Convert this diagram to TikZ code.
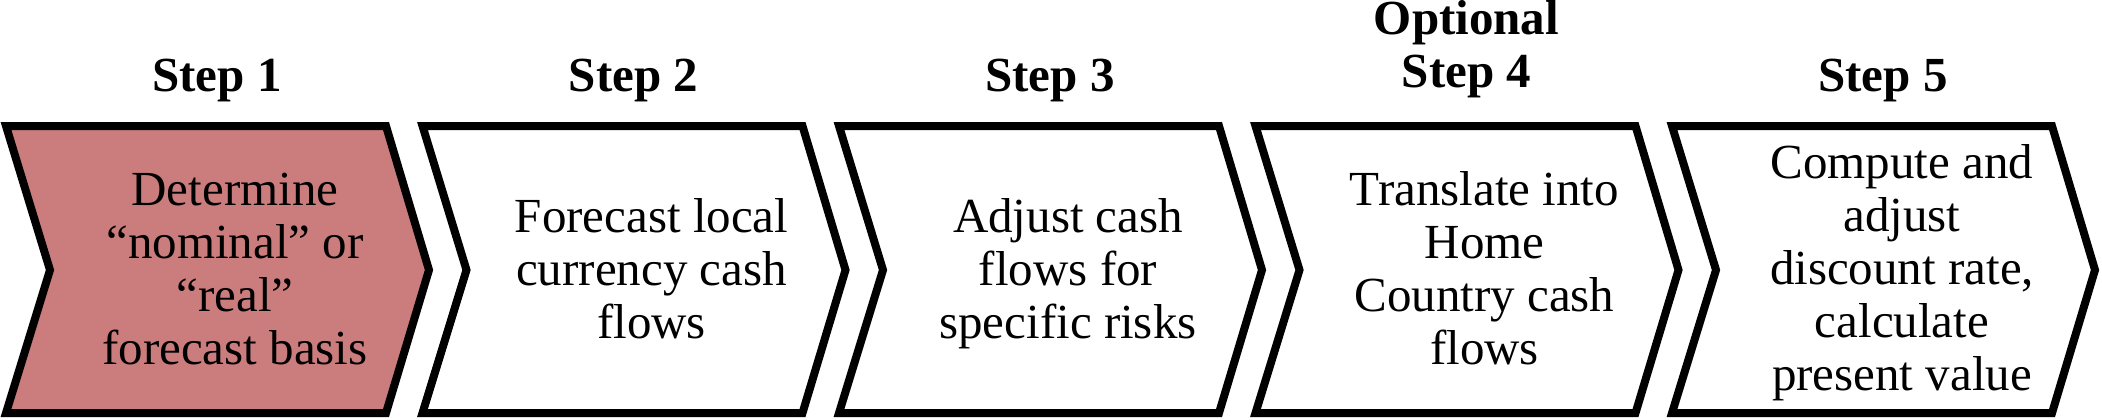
\documentclass[tikz,border=0pt]{standalone}
\usepackage{fontspec}
\setmainfont{Liberation Serif}
\definecolor{stepred}{RGB}{203,124,124}
\tikzset{
  chev/.style={draw=black, line width=8pt, miter limit=10, line join=miter},
  chevtext/.style={align=center, inner sep=0pt, font=\fontsize{49}{53}\selectfont},
  steplabel/.style={align=center, inner sep=0pt, anchor=south, font=\fontsize{49}{53}\selectfont\bfseries}
}
\newcommand{\chevpath}[1]{(#1,126) -- (#1+380,126) -- (#1+423,270) -- (#1+380,413) -- (#1,413) -- (#1+44,270) -- cycle}
\begin{document}
\begin{tikzpicture}[x=1pt,y=-1pt]
\useasboundingbox (0,0) rectangle (2102,420);
% chevrons
\path[chev, fill=stepred] \chevpath{6};
\path[chev, fill=white] \chevpath{422.5};
\path[chev, fill=white] \chevpath{839};
\path[chev, fill=white] \chevpath{1255.5};
\path[chev, fill=white] \chevpath{1672};
% step labels
\node[steplabel] (s1) at (217,108) {Step 1\strut};
\node[steplabel] (s2) at (633.5,108) {Step 2\strut};
\node[steplabel] (s3) at (1050,108) {Step 3\strut};
\node[steplabel] (s4) at (1466.5,104) {Optional\\Step 4\strut};
\node[steplabel] (s5) at (1883,108) {Step 5\strut};
% texts
\node[chevtext] (t1) at (235,274.5) {\strut Determine\\“nominal” or\\“real”\\forecast basis\strut};
\node[chevtext] (t2) at (651.5,274.5) {\strut Forecast local\\currency cash\\flows\strut};
\node[chevtext] (t3) at (1068,274.5) {\strut Adjust cash\\flows for\\specific risks\strut};
\node[chevtext] (t4) at (1484.5,274.5) {\strut Translate into\\Home\\Country cash\\flows\strut};
\node[chevtext] (t5) at (1902,273.5) {\strut Compute and\\adjust\\discount rate,\\calculate\\present value\strut};
\end{tikzpicture}
\end{document}
